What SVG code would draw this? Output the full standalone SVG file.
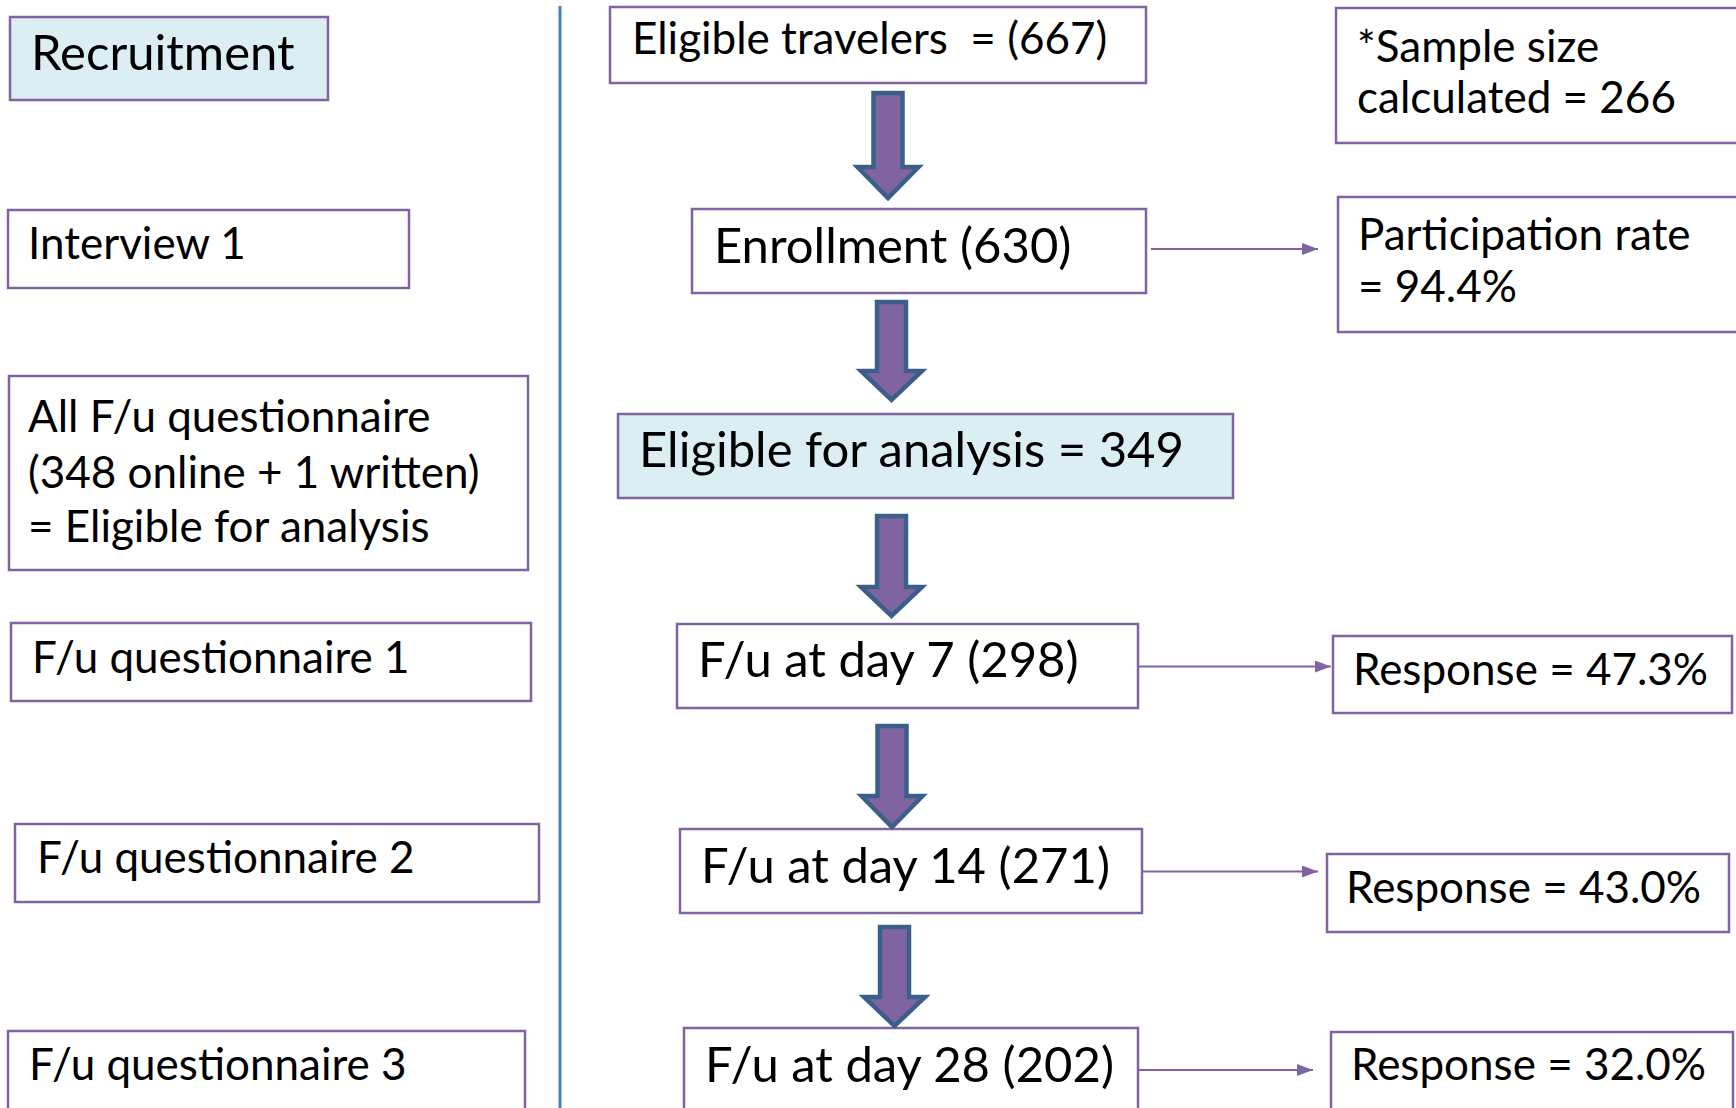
<svg xmlns="http://www.w3.org/2000/svg" width="1736" height="1108" viewBox="0 0 1736 1108">
<defs>
<style>
.box{fill:#ffffff;stroke:#8064A2;stroke-width:2.5}
.hl{fill:#DBEEF4;stroke:#8064A2;stroke-width:2.5}
.t{font-family:Lato,"Open Sans","Liberation Sans",sans-serif;fill:#000000}
.s{font-size:44px}
.l{font-size:49px}
.big{fill:#8064A2;stroke:#3C5F8A;stroke-width:4.5;stroke-linejoin:miter}
.conn{stroke:#8064A2;stroke-width:1.8;fill:none}
</style>
<marker id="ah" markerWidth="16" markerHeight="12" refX="16" refY="6" orient="auto" markerUnits="userSpaceOnUse">
<path d="M0,0 L16,6 L0,12 Z" fill="#8064A2"/>
</marker>
</defs>
<rect width="1736" height="1108" fill="#ffffff"/>
<line x1="560" y1="6" x2="560" y2="1108" stroke="#4A7EBB" stroke-width="3"/>

<g id="recruitment"><rect class="hl" x="10" y="17" width="318" height="83"/><text class="t l" x="31" y="70">Recruitment</text></g>
<g id="interview1"><rect class="box" x="8" y="210" width="401" height="78"/><text class="t s" x="28" y="259">Interview 1</text></g>
<g id="allfu"><rect class="box" x="9" y="376" width="519" height="194"/>
<text class="t s" x="28" y="432">All F/u questionnaire</text>
<text class="t s" x="28" y="488">(348 online + 1 written)</text>
<text class="t s" x="28" y="542">= Eligible for analysis</text></g>
<g id="fuq1"><rect class="box" x="11" y="623" width="520" height="78"/><text class="t s" x="32" y="673">F/u questionnaire 1</text></g>
<g id="fuq2"><rect class="box" x="15" y="824" width="524" height="78"/><text class="t s" x="37" y="873">F/u questionnaire 2</text></g>
<g id="fuq3"><rect class="box" x="8" y="1031" width="517" height="90"/><text class="t s" x="29" y="1080">F/u questionnaire 3</text></g>

<g id="eligible-travelers"><rect class="box" x="610" y="7" width="536" height="76"/><text class="t s" x="632" y="54" xml:space="preserve">Eligible travelers  = (667)</text></g>
<g id="enrollment"><rect class="box" x="692" y="209" width="454" height="84"/><text class="t l" x="714" y="263">Enrollment (630)</text></g>
<g id="eligible-analysis"><rect class="hl" x="618" y="414" width="615" height="84"/><text class="t l" x="639" y="467">Eligible for analysis = 349</text></g>
<g id="day7"><rect class="box" x="677" y="624" width="461" height="84"/><text class="t l" x="698" y="677">F/u at day 7 (298)</text></g>
<g id="day14"><rect class="box" x="680" y="829" width="462" height="84"/><text class="t l" x="701" y="883">F/u at day 14 (271)</text></g>
<g id="day28"><rect class="box" x="684" y="1028" width="454" height="95"/><text class="t l" x="705" y="1082">F/u at day 28 (202)</text></g>

<g id="sample-size"><rect class="box" x="1336" y="8" width="410" height="135"/><text class="t s" x="1357" y="62">*Sample size</text><text class="t s" x="1357" y="113">calculated = 266</text></g>
<g id="participation"><rect class="box" x="1338" y="197" width="410" height="135"/><text class="t s" x="1358" y="250">Participation rate</text><text class="t s" x="1358" y="302">= 94.4%</text></g>
<g id="resp1"><rect class="box" x="1333" y="636" width="399" height="77"/><text class="t s" x="1353" y="685">Response = 47.3%</text></g>
<g id="resp2"><rect class="box" x="1327" y="854" width="402" height="78"/><text class="t s" x="1346" y="903">Response = 43.0%</text></g>
<g id="resp3"><rect class="box" x="1331" y="1032" width="402" height="90"/><text class="t s" x="1351" y="1080">Response = 32.0%</text></g>

<g id="connectors">
<path class="big" d="M873.5,93 H902.5 V167 H918.5 L888,198 L857.5,167 H873.5 Z"/>
<path class="big" d="M877,302 H906 V371 H922 L891.5,400 L861,371 H877 Z"/>
<path class="big" d="M877,516 H906 V587 H922 L891.5,616 L861,587 H877 Z"/>
<path class="big" d="M877.5,726 H906.5 V796 H922.5 L892,827 L861.5,796 H877.5 Z"/>
<path class="big" d="M880,927 H909 V997 H925 L894.5,1026 L864,997 H880 Z"/>
<line class="conn" x1="1151" y1="249" x2="1318" y2="249" marker-end="url(#ah)"/>
<line class="conn" x1="1138" y1="666.5" x2="1331" y2="666.5" marker-end="url(#ah)"/>
<line class="conn" x1="1142" y1="871.5" x2="1318" y2="871.5" marker-end="url(#ah)"/>
<line class="conn" x1="1138" y1="1070" x2="1313" y2="1070" marker-end="url(#ah)"/>
</g>
</svg>
